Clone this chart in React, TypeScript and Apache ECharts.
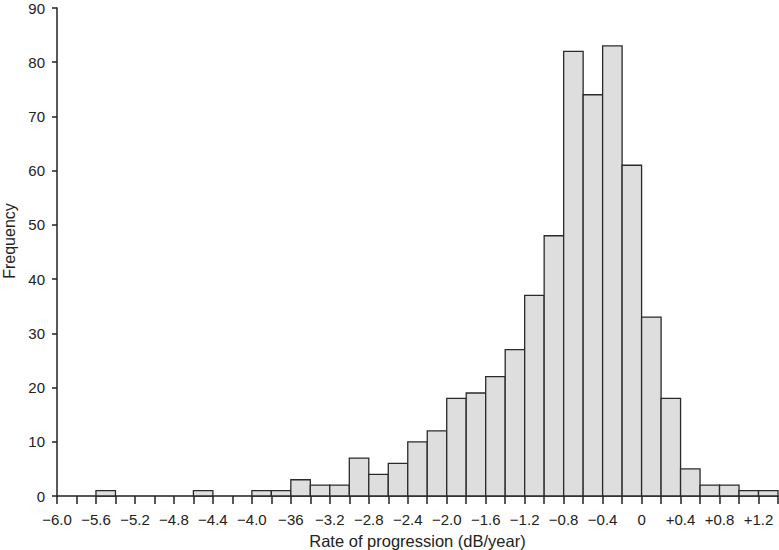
import React, { useEffect, useRef } from "react";
import * as echarts from "echarts";

const binStarts = [
  -6.0, -5.8, -5.6, -5.4, -5.2, -5.0, -4.8, -4.6, -4.4, -4.2, -4.0, -3.8, -3.6,
  -3.4, -3.2, -3.0, -2.8, -2.6, -2.4, -2.2, -2.0, -1.8, -1.6, -1.4, -1.2, -1.0,
  -0.8, -0.6, -0.4, -0.2, 0.0, 0.2, 0.4, 0.6, 0.8, 1.0, 1.2,
];
const frequencies = [
  0, 0, 1, 0, 0, 0, 0, 1, 0, 0, 1, 1, 3, 2, 2, 7, 4, 6, 10, 12, 18, 19, 22, 27,
  37, 48, 82, 74, 83, 61, 33, 18, 5, 2, 2, 1, 1,
];
const binWidth = 0.2;
const xTickLabels = [
  "−6.0", "−5.6", "−5.2", "−4.8", "−4.4", "−4.0", "−36", "−3.2", "−2.8", "−2.4",
  "−2.0", "−1.6", "−1.2", "−0.8", "−0.4", "0", "+0.4", "+0.8", "+1.2",
];

export default function App() {
  const ref = useRef<HTMLDivElement>(null);
  useEffect(() => {
    if (!ref.current) return;
    const chart = echarts.init(ref.current, null, { renderer: "svg" });
    const data = binStarts.map((s, i) => [s, s + binWidth, frequencies[i]]);
    chart.setOption({
      animation: false,
      textStyle: { fontFamily: "Liberation Sans, Arial, sans-serif" },
      grid: { left: 57, right: 1, top: 8, bottom: 54, containLabel: false, outerBoundsMode: "none" },
      xAxis: {
        type: "value",
        min: -6,
        max: 1.4,
        interval: 0.2,
        name: "Rate of progression (dB/year)",
        nameLocation: "middle",
        nameGap: 36,
        nameTextStyle: { fontSize: 16.5, color: "#222" },
        axisLine: { show: true, onZero: false, lineStyle: { color: "#222", width: 1.5 } },
        axisTick: { show: true, length: 8, inside: false, lineStyle: { color: "#222", width: 1.5 } },
        axisLabel: {
          fontSize: 15,
          color: "#222",
          margin: 16,
          showMinLabel: true,
          showMaxLabel: true,
          hideOverlap: false,
          interval: 0,
          formatter: (v: number) => {
            const k = Math.round((v + 6) / binWidth);
            if (k % 2 !== 0) return "";
            return xTickLabels[k / 2] ?? "";
          },
        },
        splitLine: { show: false },
      },
      yAxis: {
        type: "value",
        min: 0,
        max: 90,
        interval: 10,
        name: "Frequency",
        nameLocation: "middle",
        nameGap: 36,
        nameTextStyle: { fontSize: 16, color: "#222", padding: [0, 0, 0, 22] },
        axisLine: { show: true, onZero: false, lineStyle: { color: "#222", width: 1.5 } },
        axisTick: { show: true, length: 5, lineStyle: { color: "#222", width: 1.5 } },
        axisLabel: { fontSize: 15, color: "#222", margin: 12 },
        splitLine: { show: false },
      },
      series: [
        {
          type: "custom",
          data,
          encode: { x: [0, 1], y: 2 },
          renderItem: (params: any, api: any) => {
            const x0 = api.value(0);
            const x1 = api.value(1);
            const h = api.value(2);
            if (!h) return null;
            const p0 = api.coord([x0, 0]);
            const p1 = api.coord([x1, h]);
            return {
              type: "rect",
              shape: { x: p0[0], y: p1[1], width: p1[0] - p0[0], height: p0[1] - p1[1] },
              style: { fill: "#dedede", stroke: "#2a2a2a", lineWidth: 1.3 },
            };
          },
          z: 1,
        },
      ],
    });
    return () => chart.dispose();
  }, []);
  return (
    <div
      ref={ref}
      style={{ position: "absolute", left: 0, top: 0, width: 779, height: 550 }}
    />
  );
}
